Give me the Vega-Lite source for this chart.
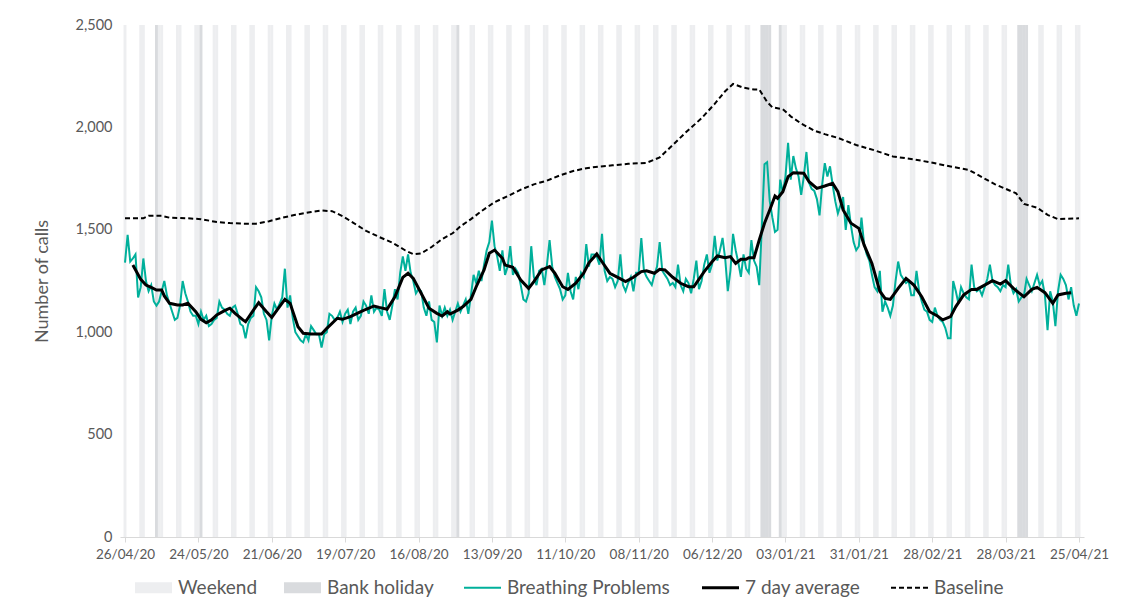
{
  "$schema": "https://vega.github.io/schema/vega-lite/v6.json",
  "width": 964,
  "height": 512,
  "autosize": {"type": "none"},
  "padding": {"left": 120, "top": 25, "right": 51, "bottom": 73},
  "background": "white",
  "config": {
    "view": {"stroke": null},
    "font": "Lato",
    "axis": {"grid": false, "labelFont": "Lato", "titleFont": "Lato", "labelColor": "#595959", "titleColor": "#595959"},
    "legend": {"labelFont": "Lato"}
  },
  "datasets": {
    "days": [
      {"d":"2020-04-26","t":"Weekend"},{"d":"2020-05-02","t":"Weekend"},{"d":"2020-05-03","t":"Weekend"},{"d":"2020-05-09","t":"Weekend"},{"d":"2020-05-10","t":"Weekend"},{"d":"2020-05-16","t":"Weekend"},{"d":"2020-05-17","t":"Weekend"},{"d":"2020-05-23","t":"Weekend"},{"d":"2020-05-24","t":"Weekend"},{"d":"2020-05-30","t":"Weekend"},{"d":"2020-05-31","t":"Weekend"},
      {"d":"2020-06-06","t":"Weekend"},{"d":"2020-06-07","t":"Weekend"},{"d":"2020-06-13","t":"Weekend"},{"d":"2020-06-14","t":"Weekend"},{"d":"2020-06-20","t":"Weekend"},{"d":"2020-06-21","t":"Weekend"},{"d":"2020-06-27","t":"Weekend"},{"d":"2020-06-28","t":"Weekend"},
      {"d":"2020-07-04","t":"Weekend"},{"d":"2020-07-05","t":"Weekend"},{"d":"2020-07-11","t":"Weekend"},{"d":"2020-07-12","t":"Weekend"},{"d":"2020-07-18","t":"Weekend"},{"d":"2020-07-19","t":"Weekend"},{"d":"2020-07-25","t":"Weekend"},{"d":"2020-07-26","t":"Weekend"},
      {"d":"2020-08-01","t":"Weekend"},{"d":"2020-08-02","t":"Weekend"},{"d":"2020-08-08","t":"Weekend"},{"d":"2020-08-09","t":"Weekend"},{"d":"2020-08-15","t":"Weekend"},{"d":"2020-08-16","t":"Weekend"},{"d":"2020-08-22","t":"Weekend"},{"d":"2020-08-23","t":"Weekend"},{"d":"2020-08-29","t":"Weekend"},{"d":"2020-08-30","t":"Weekend"},
      {"d":"2020-09-05","t":"Weekend"},{"d":"2020-09-06","t":"Weekend"},{"d":"2020-09-12","t":"Weekend"},{"d":"2020-09-13","t":"Weekend"},{"d":"2020-09-19","t":"Weekend"},{"d":"2020-09-20","t":"Weekend"},{"d":"2020-09-26","t":"Weekend"},{"d":"2020-09-27","t":"Weekend"},
      {"d":"2020-10-03","t":"Weekend"},{"d":"2020-10-04","t":"Weekend"},{"d":"2020-10-10","t":"Weekend"},{"d":"2020-10-11","t":"Weekend"},{"d":"2020-10-17","t":"Weekend"},{"d":"2020-10-18","t":"Weekend"},{"d":"2020-10-24","t":"Weekend"},{"d":"2020-10-25","t":"Weekend"},{"d":"2020-10-31","t":"Weekend"},
      {"d":"2020-11-01","t":"Weekend"},{"d":"2020-11-07","t":"Weekend"},{"d":"2020-11-08","t":"Weekend"},{"d":"2020-11-14","t":"Weekend"},{"d":"2020-11-15","t":"Weekend"},{"d":"2020-11-21","t":"Weekend"},{"d":"2020-11-22","t":"Weekend"},{"d":"2020-11-28","t":"Weekend"},{"d":"2020-11-29","t":"Weekend"},
      {"d":"2020-12-05","t":"Weekend"},{"d":"2020-12-06","t":"Weekend"},{"d":"2020-12-12","t":"Weekend"},{"d":"2020-12-13","t":"Weekend"},{"d":"2020-12-19","t":"Weekend"},{"d":"2020-12-20","t":"Weekend"},{"d":"2020-12-26","t":"Weekend"},{"d":"2020-12-27","t":"Weekend"},
      {"d":"2021-01-02","t":"Weekend"},{"d":"2021-01-03","t":"Weekend"},{"d":"2021-01-09","t":"Weekend"},{"d":"2021-01-10","t":"Weekend"},{"d":"2021-01-16","t":"Weekend"},{"d":"2021-01-17","t":"Weekend"},{"d":"2021-01-23","t":"Weekend"},{"d":"2021-01-24","t":"Weekend"},{"d":"2021-01-30","t":"Weekend"},{"d":"2021-01-31","t":"Weekend"},
      {"d":"2021-02-06","t":"Weekend"},{"d":"2021-02-07","t":"Weekend"},{"d":"2021-02-13","t":"Weekend"},{"d":"2021-02-14","t":"Weekend"},{"d":"2021-02-20","t":"Weekend"},{"d":"2021-02-21","t":"Weekend"},{"d":"2021-02-27","t":"Weekend"},{"d":"2021-02-28","t":"Weekend"},
      {"d":"2021-03-06","t":"Weekend"},{"d":"2021-03-07","t":"Weekend"},{"d":"2021-03-13","t":"Weekend"},{"d":"2021-03-14","t":"Weekend"},{"d":"2021-03-20","t":"Weekend"},{"d":"2021-03-21","t":"Weekend"},{"d":"2021-03-27","t":"Weekend"},{"d":"2021-03-28","t":"Weekend"},
      {"d":"2021-04-03","t":"Weekend"},{"d":"2021-04-04","t":"Weekend"},{"d":"2021-04-10","t":"Weekend"},{"d":"2021-04-11","t":"Weekend"},{"d":"2021-04-17","t":"Weekend"},{"d":"2021-04-18","t":"Weekend"},{"d":"2021-04-24","t":"Weekend"},{"d":"2021-04-25","t":"Weekend"},
      {"d":"2020-05-08","t":"Bank holiday"},{"d":"2020-05-25","t":"Bank holiday"},{"d":"2020-08-31","t":"Bank holiday"},{"d":"2020-12-25","t":"Bank holiday"},{"d":"2020-12-26","t":"Bank holiday"},{"d":"2020-12-27","t":"Bank holiday"},{"d":"2020-12-28","t":"Bank holiday"},{"d":"2021-01-01","t":"Bank holiday"},{"d":"2021-04-02","t":"Bank holiday"},{"d":"2021-04-03","t":"Bank holiday"},{"d":"2021-04-04","t":"Bank holiday"},{"d":"2021-04-05","t":"Bank holiday"}
    ],
    "bp": [
      {"d":"2020-04-26","v":1340},{"d":"2020-04-27","v":1475},{"d":"2020-04-28","v":1345},{"d":"2020-04-29","v":1360},{"d":"2020-04-30","v":1380},
      {"d":"2020-05-01","v":1170},{"d":"2020-05-02","v":1220},{"d":"2020-05-03","v":1360},{"d":"2020-05-04","v":1250},{"d":"2020-05-05","v":1200},{"d":"2020-05-06","v":1230},{"d":"2020-05-07","v":1150},{"d":"2020-05-08","v":1130},{"d":"2020-05-09","v":1150},{"d":"2020-05-10","v":1200},{"d":"2020-05-11","v":1250},{"d":"2020-05-12","v":1180},{"d":"2020-05-13","v":1140},{"d":"2020-05-14","v":1100},{"d":"2020-05-15","v":1060},{"d":"2020-05-16","v":1070},{"d":"2020-05-17","v":1130},{"d":"2020-05-18","v":1250},{"d":"2020-05-19","v":1190},{"d":"2020-05-20","v":1150},{"d":"2020-05-21","v":1100},{"d":"2020-05-22","v":1080},{"d":"2020-05-23","v":1080},{"d":"2020-05-24","v":1040},{"d":"2020-05-25","v":1100},{"d":"2020-05-26","v":1060},{"d":"2020-05-27","v":1080},{"d":"2020-05-28","v":1030},{"d":"2020-05-29","v":1040},{"d":"2020-05-30","v":1060},{"d":"2020-05-31","v":1070},
      {"d":"2020-06-01","v":1150},{"d":"2020-06-02","v":1120},{"d":"2020-06-03","v":1110},{"d":"2020-06-04","v":1090},{"d":"2020-06-05","v":1080},{"d":"2020-06-06","v":1120},{"d":"2020-06-07","v":1130},{"d":"2020-06-08","v":1090},{"d":"2020-06-09","v":1040},{"d":"2020-06-10","v":1030},{"d":"2020-06-11","v":970},{"d":"2020-06-12","v":1040},{"d":"2020-06-13","v":1070},{"d":"2020-06-14","v":1080},{"d":"2020-06-15","v":1220},{"d":"2020-06-16","v":1200},{"d":"2020-06-17","v":1170},{"d":"2020-06-18","v":1090},{"d":"2020-06-19","v":1060},{"d":"2020-06-20","v":960},{"d":"2020-06-21","v":1080},{"d":"2020-06-22","v":1140},{"d":"2020-06-23","v":1110},{"d":"2020-06-24","v":1140},{"d":"2020-06-25","v":1170},{"d":"2020-06-26","v":1310},{"d":"2020-06-27","v":1120},{"d":"2020-06-28","v":1180},{"d":"2020-06-29","v":1070},{"d":"2020-06-30","v":1000},
      {"d":"2020-07-01","v":980},{"d":"2020-07-02","v":960},{"d":"2020-07-03","v":950},{"d":"2020-07-04","v":990},{"d":"2020-07-05","v":960},{"d":"2020-07-06","v":1030},{"d":"2020-07-07","v":1010},{"d":"2020-07-08","v":990},{"d":"2020-07-09","v":990},{"d":"2020-07-10","v":925},{"d":"2020-07-11","v":990},{"d":"2020-07-12","v":1000},{"d":"2020-07-13","v":1090},{"d":"2020-07-14","v":1080},{"d":"2020-07-15","v":1060},{"d":"2020-07-16","v":1070},{"d":"2020-07-17","v":1100},{"d":"2020-07-18","v":1050},{"d":"2020-07-19","v":1090},{"d":"2020-07-20","v":1110},{"d":"2020-07-21","v":1040},{"d":"2020-07-22","v":1100},{"d":"2020-07-23","v":1120},{"d":"2020-07-24","v":1060},{"d":"2020-07-25","v":1080},{"d":"2020-07-26","v":1150},{"d":"2020-07-27","v":1130},{"d":"2020-07-28","v":1090},{"d":"2020-07-29","v":1180},{"d":"2020-07-30","v":1100},{"d":"2020-07-31","v":1120},
      {"d":"2020-08-01","v":1110},{"d":"2020-08-02","v":1080},{"d":"2020-08-03","v":1210},{"d":"2020-08-04","v":1100},{"d":"2020-08-05","v":1060},{"d":"2020-08-06","v":1130},{"d":"2020-08-07","v":1210},{"d":"2020-08-08","v":1160},{"d":"2020-08-09","v":1290},{"d":"2020-08-10","v":1370},{"d":"2020-08-11","v":1300},{"d":"2020-08-12","v":1380},{"d":"2020-08-13","v":1290},{"d":"2020-08-14","v":1250},{"d":"2020-08-15","v":1190},{"d":"2020-08-16","v":1210},{"d":"2020-08-17","v":1200},{"d":"2020-08-18","v":1120},{"d":"2020-08-19","v":1080},{"d":"2020-08-20","v":1150},{"d":"2020-08-21","v":1060},{"d":"2020-08-22","v":1050},{"d":"2020-08-23","v":950},{"d":"2020-08-24","v":1130},{"d":"2020-08-25","v":1080},{"d":"2020-08-26","v":1120},{"d":"2020-08-27","v":1080},{"d":"2020-08-28","v":1110},{"d":"2020-08-29","v":1060},{"d":"2020-08-30","v":1100},{"d":"2020-08-31","v":1140},
      {"d":"2020-09-01","v":1100},{"d":"2020-09-02","v":1130},{"d":"2020-09-03","v":1160},{"d":"2020-09-04","v":1090},{"d":"2020-09-05","v":1180},{"d":"2020-09-06","v":1280},{"d":"2020-09-07","v":1240},{"d":"2020-09-08","v":1300},{"d":"2020-09-09","v":1250},{"d":"2020-09-10","v":1330},{"d":"2020-09-11","v":1400},{"d":"2020-09-12","v":1440},{"d":"2020-09-13","v":1545},{"d":"2020-09-14","v":1420},{"d":"2020-09-15","v":1370},{"d":"2020-09-16","v":1300},{"d":"2020-09-17","v":1400},{"d":"2020-09-18","v":1280},{"d":"2020-09-19","v":1320},{"d":"2020-09-20","v":1420},{"d":"2020-09-21","v":1280},{"d":"2020-09-22","v":1310},{"d":"2020-09-23","v":1290},{"d":"2020-09-24","v":1230},{"d":"2020-09-25","v":1160},{"d":"2020-09-26","v":1150},{"d":"2020-09-27","v":1190},{"d":"2020-09-28","v":1420},{"d":"2020-09-29","v":1270},{"d":"2020-09-30","v":1230},
      {"d":"2020-10-01","v":1300},{"d":"2020-10-02","v":1310},{"d":"2020-10-03","v":1230},{"d":"2020-10-04","v":1330},{"d":"2020-10-05","v":1450},{"d":"2020-10-06","v":1320},{"d":"2020-10-07","v":1270},{"d":"2020-10-08","v":1240},{"d":"2020-10-09","v":1210},{"d":"2020-10-10","v":1160},{"d":"2020-10-11","v":1180},{"d":"2020-10-12","v":1290},{"d":"2020-10-13","v":1200},{"d":"2020-10-14","v":1160},{"d":"2020-10-15","v":1270},{"d":"2020-10-16","v":1210},{"d":"2020-10-17","v":1290},{"d":"2020-10-18","v":1270},{"d":"2020-10-19","v":1430},{"d":"2020-10-20","v":1320},{"d":"2020-10-21","v":1380},{"d":"2020-10-22","v":1380},{"d":"2020-10-23","v":1370},{"d":"2020-10-24","v":1330},{"d":"2020-10-25","v":1480},{"d":"2020-10-26","v":1300},{"d":"2020-10-27","v":1250},{"d":"2020-10-28","v":1270},{"d":"2020-10-29","v":1260},{"d":"2020-10-30","v":1220},{"d":"2020-10-31","v":1250},
      {"d":"2020-11-01","v":1380},{"d":"2020-11-02","v":1230},{"d":"2020-11-03","v":1200},{"d":"2020-11-04","v":1240},{"d":"2020-11-05","v":1270},{"d":"2020-11-06","v":1200},{"d":"2020-11-07","v":1290},{"d":"2020-11-08","v":1290},{"d":"2020-11-09","v":1460},{"d":"2020-11-10","v":1300},{"d":"2020-11-11","v":1270},{"d":"2020-11-12","v":1250},{"d":"2020-11-13","v":1230},{"d":"2020-11-14","v":1280},{"d":"2020-11-15","v":1320},{"d":"2020-11-16","v":1440},{"d":"2020-11-17","v":1300},{"d":"2020-11-18","v":1280},{"d":"2020-11-19","v":1260},{"d":"2020-11-20","v":1230},{"d":"2020-11-21","v":1240},{"d":"2020-11-22","v":1220},{"d":"2020-11-23","v":1330},{"d":"2020-11-24","v":1230},{"d":"2020-11-25","v":1200},{"d":"2020-11-26","v":1260},{"d":"2020-11-27","v":1240},{"d":"2020-11-28","v":1190},{"d":"2020-11-29","v":1260},{"d":"2020-11-30","v":1350},
      {"d":"2020-12-01","v":1210},{"d":"2020-12-02","v":1250},{"d":"2020-12-03","v":1330},{"d":"2020-12-04","v":1380},{"d":"2020-12-05","v":1290},{"d":"2020-12-06","v":1330},{"d":"2020-12-07","v":1470},{"d":"2020-12-08","v":1350},{"d":"2020-12-09","v":1400},{"d":"2020-12-10","v":1460},{"d":"2020-12-11","v":1360},{"d":"2020-12-12","v":1200},{"d":"2020-12-13","v":1300},{"d":"2020-12-14","v":1480},{"d":"2020-12-15","v":1400},{"d":"2020-12-16","v":1340},{"d":"2020-12-17","v":1270},{"d":"2020-12-18","v":1380},{"d":"2020-12-19","v":1310},{"d":"2020-12-20","v":1290},{"d":"2020-12-21","v":1450},{"d":"2020-12-22","v":1350},{"d":"2020-12-23","v":1320},{"d":"2020-12-24","v":1230},{"d":"2020-12-25","v":1520},{"d":"2020-12-26","v":1820},{"d":"2020-12-27","v":1830},{"d":"2020-12-28","v":1640},{"d":"2020-12-29","v":1560},{"d":"2020-12-30","v":1490},{"d":"2020-12-31","v":1500},
      {"d":"2021-01-01","v":1745},{"d":"2021-01-02","v":1680},{"d":"2021-01-03","v":1760},{"d":"2021-01-04","v":1925},{"d":"2021-01-05","v":1745},{"d":"2021-01-06","v":1860},{"d":"2021-01-07","v":1800},{"d":"2021-01-08","v":1760},{"d":"2021-01-09","v":1670},{"d":"2021-01-10","v":1760},{"d":"2021-01-11","v":1880},{"d":"2021-01-12","v":1730},{"d":"2021-01-13","v":1700},{"d":"2021-01-14","v":1690},{"d":"2021-01-15","v":1650},{"d":"2021-01-16","v":1570},{"d":"2021-01-17","v":1720},{"d":"2021-01-18","v":1825},{"d":"2021-01-19","v":1760},{"d":"2021-01-20","v":1810},{"d":"2021-01-21","v":1720},{"d":"2021-01-22","v":1640},{"d":"2021-01-23","v":1580},{"d":"2021-01-24","v":1620},{"d":"2021-01-25","v":1660},{"d":"2021-01-26","v":1500},{"d":"2021-01-27","v":1620},{"d":"2021-01-28","v":1520},{"d":"2021-01-29","v":1440},{"d":"2021-01-30","v":1400},{"d":"2021-01-31","v":1420},
      {"d":"2021-02-01","v":1560},{"d":"2021-02-02","v":1430},{"d":"2021-02-03","v":1380},{"d":"2021-02-04","v":1350},{"d":"2021-02-05","v":1280},{"d":"2021-02-06","v":1220},{"d":"2021-02-07","v":1200},{"d":"2021-02-08","v":1300},{"d":"2021-02-09","v":1100},{"d":"2021-02-10","v":1150},{"d":"2021-02-11","v":1120},{"d":"2021-02-12","v":1080},{"d":"2021-02-13","v":1130},{"d":"2021-02-14","v":1250},{"d":"2021-02-15","v":1345},{"d":"2021-02-16","v":1280},{"d":"2021-02-17","v":1260},{"d":"2021-02-18","v":1240},{"d":"2021-02-19","v":1250},{"d":"2021-02-20","v":1180},{"d":"2021-02-21","v":1180},{"d":"2021-02-22","v":1300},{"d":"2021-02-23","v":1200},{"d":"2021-02-24","v":1150},{"d":"2021-02-25","v":1110},{"d":"2021-02-26","v":1100},{"d":"2021-02-27","v":1060},{"d":"2021-02-28","v":1050},
      {"d":"2021-03-01","v":1120},{"d":"2021-03-02","v":1080},{"d":"2021-03-03","v":1060},{"d":"2021-03-04","v":1050},{"d":"2021-03-05","v":1020},{"d":"2021-03-06","v":970},{"d":"2021-03-07","v":970},{"d":"2021-03-08","v":1250},{"d":"2021-03-09","v":1200},{"d":"2021-03-10","v":1140},{"d":"2021-03-11","v":1220},{"d":"2021-03-12","v":1190},{"d":"2021-03-13","v":1170},{"d":"2021-03-14","v":1160},{"d":"2021-03-15","v":1330},{"d":"2021-03-16","v":1220},{"d":"2021-03-17","v":1200},{"d":"2021-03-18","v":1210},{"d":"2021-03-19","v":1180},{"d":"2021-03-20","v":1220},{"d":"2021-03-21","v":1260},{"d":"2021-03-22","v":1330},{"d":"2021-03-23","v":1250},{"d":"2021-03-24","v":1230},{"d":"2021-03-25","v":1220},{"d":"2021-03-26","v":1200},{"d":"2021-03-27","v":1230},{"d":"2021-03-28","v":1220},{"d":"2021-03-29","v":1330},{"d":"2021-03-30","v":1230},{"d":"2021-03-31","v":1190},
      {"d":"2021-04-01","v":1210},{"d":"2021-04-02","v":1150},{"d":"2021-04-03","v":1170},{"d":"2021-04-04","v":1180},{"d":"2021-04-05","v":1260},{"d":"2021-04-06","v":1230},{"d":"2021-04-07","v":1200},{"d":"2021-04-08","v":1240},{"d":"2021-04-09","v":1280},{"d":"2021-04-10","v":1230},{"d":"2021-04-11","v":1250},{"d":"2021-04-12","v":1180},{"d":"2021-04-13","v":1010},{"d":"2021-04-14","v":1200},{"d":"2021-04-15","v":1150},{"d":"2021-04-16","v":1030},{"d":"2021-04-17","v":1200},{"d":"2021-04-18","v":1280},{"d":"2021-04-19","v":1260},{"d":"2021-04-20","v":1230},{"d":"2021-04-21","v":1160},{"d":"2021-04-22","v":1220},{"d":"2021-04-23","v":1130},{"d":"2021-04-24","v":1080},{"d":"2021-04-25","v":1140}
    ],
    "avg": [
      {"d":"2020-04-29","v":1328},{"d":"2020-05-02","v":1258},{"d":"2020-05-04","v":1230},{"d":"2020-05-06","v":1219},{"d":"2020-05-08","v":1206},{"d":"2020-05-10","v":1206},{"d":"2020-05-11","v":1177},{"d":"2020-05-13","v":1141},{"d":"2020-05-16","v":1133},{"d":"2020-05-18","v":1133},{"d":"2020-05-20","v":1141},{"d":"2020-05-23","v":1100},{"d":"2020-05-25","v":1063},{"d":"2020-05-27","v":1046},{"d":"2020-05-29","v":1060},{"d":"2020-05-31","v":1084},
      {"d":"2020-06-03","v":1105},{"d":"2020-06-05","v":1117},{"d":"2020-06-07","v":1092},{"d":"2020-06-10","v":1060},{"d":"2020-06-11","v":1051},{"d":"2020-06-14","v":1108},{"d":"2020-06-16","v":1144},{"d":"2020-06-19","v":1100},{"d":"2020-06-21","v":1072},{"d":"2020-06-23","v":1108},{"d":"2020-06-26","v":1160},{"d":"2020-06-28","v":1141},
      {"d":"2020-07-01","v":1027},{"d":"2020-07-03","v":995},{"d":"2020-07-06","v":991},{"d":"2020-07-10","v":991},{"d":"2020-07-12","v":1019},{"d":"2020-07-16","v":1068},{"d":"2020-07-18","v":1063},{"d":"2020-07-21","v":1076},{"d":"2020-07-25","v":1100},{"d":"2020-07-27","v":1112},{"d":"2020-07-30","v":1128},
      {"d":"2020-08-01","v":1121},{"d":"2020-08-04","v":1112},{"d":"2020-08-07","v":1173},{"d":"2020-08-10","v":1268},{"d":"2020-08-12","v":1288},{"d":"2020-08-14","v":1263},{"d":"2020-08-17","v":1190},{"d":"2020-08-20","v":1117},{"d":"2020-08-23","v":1092},{"d":"2020-08-25","v":1079},{"d":"2020-08-27","v":1100},{"d":"2020-08-28","v":1089},{"d":"2020-08-31","v":1108},
      {"d":"2020-09-02","v":1125},{"d":"2020-09-05","v":1160},{"d":"2020-09-07","v":1222},{"d":"2020-09-10","v":1304},{"d":"2020-09-12","v":1385},{"d":"2020-09-14","v":1401},{"d":"2020-09-17","v":1361},{"d":"2020-09-18","v":1328},{"d":"2020-09-21","v":1317},{"d":"2020-09-24","v":1255},{"d":"2020-09-27","v":1214},{"d":"2020-09-29","v":1247},
      {"d":"2020-10-02","v":1304},{"d":"2020-10-05","v":1320},{"d":"2020-10-07","v":1288},{"d":"2020-10-10","v":1222},{"d":"2020-10-12","v":1209},{"d":"2020-10-15","v":1239},{"d":"2020-10-18","v":1288},{"d":"2020-10-20","v":1339},{"d":"2020-10-23","v":1382},{"d":"2020-10-25","v":1344},{"d":"2020-10-28","v":1288},{"d":"2020-10-31","v":1268},
      {"d":"2020-11-03","v":1247},{"d":"2020-11-06","v":1268},{"d":"2020-11-09","v":1296},{"d":"2020-11-11","v":1300},{"d":"2020-11-14","v":1288},{"d":"2020-11-16","v":1307},{"d":"2020-11-18","v":1304},{"d":"2020-11-21","v":1268},{"d":"2020-11-24","v":1239},{"d":"2020-11-27","v":1222},{"d":"2020-11-29","v":1222},
      {"d":"2020-12-03","v":1296},{"d":"2020-12-06","v":1344},{"d":"2020-12-08","v":1372},{"d":"2020-12-11","v":1364},{"d":"2020-12-13","v":1369},{"d":"2020-12-15","v":1336},{"d":"2020-12-17","v":1356},{"d":"2020-12-19","v":1356},{"d":"2020-12-20","v":1364},{"d":"2020-12-22","v":1364},{"d":"2020-12-24","v":1450},{"d":"2020-12-26","v":1532},{"d":"2020-12-28","v":1597},{"d":"2020-12-30","v":1665},{"d":"2020-12-31","v":1654},
      {"d":"2021-01-02","v":1686},{"d":"2021-01-04","v":1759},{"d":"2021-01-06","v":1779},{"d":"2021-01-10","v":1776},{"d":"2021-01-12","v":1735},{"d":"2021-01-15","v":1702},{"d":"2021-01-18","v":1714},{"d":"2021-01-21","v":1727},{"d":"2021-01-23","v":1686},{"d":"2021-01-25","v":1597},{"d":"2021-01-28","v":1532},{"d":"2021-01-31","v":1507},
      {"d":"2021-02-02","v":1426},{"d":"2021-02-05","v":1336},{"d":"2021-02-08","v":1200},{"d":"2021-02-10","v":1165},{"d":"2021-02-12","v":1160},{"d":"2021-02-15","v":1214},{"d":"2021-02-18","v":1263},{"d":"2021-02-21","v":1230},{"d":"2021-02-24","v":1173},{"d":"2021-02-27","v":1100},
      {"d":"2021-03-02","v":1079},{"d":"2021-03-04","v":1060},{"d":"2021-03-07","v":1076},{"d":"2021-03-09","v":1125},{"d":"2021-03-12","v":1182},{"d":"2021-03-15","v":1209},{"d":"2021-03-17","v":1209},{"d":"2021-03-20","v":1230},{"d":"2021-03-23","v":1252},{"d":"2021-03-26","v":1235},{"d":"2021-03-28","v":1252},{"d":"2021-03-31","v":1214},
      {"d":"2021-04-02","v":1193},{"d":"2021-04-04","v":1173},{"d":"2021-04-07","v":1209},{"d":"2021-04-09","v":1219},{"d":"2021-04-12","v":1193},{"d":"2021-04-15","v":1141},{"d":"2021-04-17","v":1182},{"d":"2021-04-20","v":1190},{"d":"2021-04-22","v":1193}
    ],
    "base": [
      {"d":"2020-04-26","v":1556},{"d":"2020-05-03","v":1556},{"d":"2020-05-05","v":1568},{"d":"2020-05-10","v":1568},{"d":"2020-05-13","v":1559},{"d":"2020-05-20","v":1556},{"d":"2020-05-25","v":1552},{"d":"2020-05-31","v":1538},{"d":"2020-06-05","v":1533},{"d":"2020-06-10","v":1530},{"d":"2020-06-15","v":1530},{"d":"2020-06-20","v":1542},{"d":"2020-06-25","v":1559},{"d":"2020-06-30","v":1573},
      {"d":"2020-07-06","v":1587},{"d":"2020-07-10","v":1594},{"d":"2020-07-14","v":1591},{"d":"2020-07-18","v":1567},{"d":"2020-07-22","v":1535},{"d":"2020-07-27","v":1495},{"d":"2020-08-01","v":1465},{"d":"2020-08-06","v":1437},{"d":"2020-08-11","v":1399},{"d":"2020-08-14","v":1381},{"d":"2020-08-17","v":1385},{"d":"2020-08-21","v":1416},{"d":"2020-08-25","v":1455},{"d":"2020-08-29","v":1483},
      {"d":"2020-09-01","v":1517},{"d":"2020-09-05","v":1552},{"d":"2020-09-09","v":1591},{"d":"2020-09-14","v":1635},{"d":"2020-09-19","v":1664},{"d":"2020-09-24","v":1696},{"d":"2020-09-29","v":1722},{"d":"2020-10-04","v":1740},{"d":"2020-10-09","v":1766},{"d":"2020-10-14","v":1787},{"d":"2020-10-19","v":1801},{"d":"2020-10-24","v":1809},{"d":"2020-10-29","v":1815},
      {"d":"2020-11-04","v":1822},{"d":"2020-11-11","v":1827},{"d":"2020-11-16","v":1853},{"d":"2020-11-21","v":1914},{"d":"2020-11-26","v":1976},{"d":"2020-12-02","v":2045},{"d":"2020-12-07","v":2115},{"d":"2020-12-11","v":2177},{"d":"2020-12-14","v":2212},{"d":"2020-12-18","v":2194},{"d":"2020-12-22","v":2185},{"d":"2020-12-24","v":2185},{"d":"2020-12-27","v":2124},{"d":"2020-12-29","v":2098},
      {"d":"2021-01-02","v":2089},{"d":"2021-01-05","v":2054},{"d":"2021-01-09","v":2019},{"d":"2021-01-14","v":1984},{"d":"2021-01-18","v":1967},{"d":"2021-01-23","v":1949},{"d":"2021-01-30","v":1914},{"d":"2021-02-06","v":1888},{"d":"2021-02-13","v":1858},{"d":"2021-02-21","v":1844},{"d":"2021-02-27","v":1830},
      {"d":"2021-03-07","v":1809},{"d":"2021-03-14","v":1792},{"d":"2021-03-19","v":1757},{"d":"2021-03-24","v":1722},{"d":"2021-04-01","v":1678},{"d":"2021-04-04","v":1626},{"d":"2021-04-09","v":1608},{"d":"2021-04-13","v":1573},{"d":"2021-04-17","v":1552},{"d":"2021-04-25","v":1556}
    ]
  },
  "encoding": {
    "x": {
      "field": "d", "type": "temporal", "title": null,
      "scale": {"type": "utc", "nice": false, "domain": [{"year": 2020, "month": 4, "date": 26, "utc": true}, {"year": 2021, "month": 4, "date": 25, "utc": true}]},
      "axis": {
        "format": "%d/%m/%y", "labelFontSize": 13.5, "labelPadding": 5, "tickSize": 5, "tickColor": "#D9D9D9", "domainColor": "#D9D9D9", "labelFlush": false, "labelOverlap": false,
        "values": [
          {"year": 2020, "month": 4, "date": 26, "utc": true}, {"year": 2020, "month": 5, "date": 24, "utc": true}, {"year": 2020, "month": 6, "date": 21, "utc": true},
          {"year": 2020, "month": 7, "date": 19, "utc": true}, {"year": 2020, "month": 8, "date": 16, "utc": true}, {"year": 2020, "month": 9, "date": 13, "utc": true},
          {"year": 2020, "month": 10, "date": 11, "utc": true}, {"year": 2020, "month": 11, "date": 8, "utc": true}, {"year": 2020, "month": 12, "date": 6, "utc": true},
          {"year": 2021, "month": 1, "date": 3, "utc": true}, {"year": 2021, "month": 1, "date": 31, "utc": true}, {"year": 2021, "month": 2, "date": 28, "utc": true},
          {"year": 2021, "month": 3, "date": 28, "utc": true}, {"year": 2021, "month": 4, "date": 25, "utc": true}
        ]
      }
    }
  },
  "layer": [
    {
      "data": {"name": "days"},
      "mark": {"type": "bar", "width": 2.9, "clip": true},
      "encoding": {
        "y": {"datum": 2500, "type": "quantitative", "title": "Number of calls", "scale": {"domain": [0, 2500], "nice": false, "zero": true},
              "axis": {"values": [0, 500, 1000, 1500, 2000, 2500], "format": ",.0f", "domain": false, "ticks": false, "labelFontSize": 14.5, "labelPadding": 8, "titleFontSize": 18, "titleFontWeight": "normal", "titlePadding": 24}},
        "y2": {"datum": 0},
        "color": {
          "field": "t", "type": "nominal",
          "scale": {"domain": ["Weekend", "Bank holiday", "Breathing Problems", "7 day average", "Baseline"], "range": ["#EDEEF0", "#D9DBDE", "#00B09B", "#000000", "#000000"]},
          "legend": {
            "title": null, "orient": "none", "legendX": 15, "legendY": 553, "direction": "horizontal",
            "symbolSize": 1369, "labelFontSize": 19, "labelColor": "#595959", "labelOffset": 6, "columnPadding": 26, "labelLimit": 400,
            "encode": {
              "symbols": {"update": {
                "x": {"value": 18.5},
                "shape": {"signal": "datum.value === 'Weekend' || datum.value === 'Bank holiday' ? 'M-1,-0.3H1V0.3H-1Z' : 'M-1,0H1'"},
                "size": {"value": 1369},
                "fill": {"signal": "datum.value === 'Weekend' ? '#EDEEF0' : datum.value === 'Bank holiday' ? '#D9DBDE' : 'transparent'"},
                "stroke": {"signal": "datum.value === 'Breathing Problems' ? '#00B09B' : (datum.value === '7 day average' || datum.value === 'Baseline') ? '#000000' : 'transparent'"},
                "strokeWidth": {"signal": "datum.value === 'Breathing Problems' ? 2 : datum.value === '7 day average' ? 3 : datum.value === 'Baseline' ? 2 : 0"},
                "strokeDash": {"signal": "datum.value === 'Baseline' ? [5, 3] : [1, 0]"},
                "opacity": {"value": 1}
              }},
              "labels": {"update": {"x": {"value": 43}}}
            }
          }
        }
      }
    },
    {
      "data": {"name": "base"},
      "mark": {"type": "line", "strokeWidth": 2, "strokeDash": [5, 3]},
      "encoding": {
        "y": {"field": "v", "type": "quantitative", "title": "Number of calls", "scale": {"domain": [0, 2500], "nice": false}},
        "color": {"datum": "Baseline", "type": "nominal"}
      }
    },
    {
      "data": {"name": "bp"},
      "mark": {"type": "line", "strokeWidth": 2},
      "encoding": {
        "y": {"field": "v", "type": "quantitative", "title": "Number of calls", "scale": {"domain": [0, 2500], "nice": false}},
        "color": {"datum": "Breathing Problems", "type": "nominal"}
      }
    },
    {
      "data": {"name": "avg"},
      "mark": {"type": "line", "strokeWidth": 3},
      "encoding": {
        "y": {"field": "v", "type": "quantitative", "title": "Number of calls", "scale": {"domain": [0, 2500], "nice": false}},
        "color": {"datum": "7 day average", "type": "nominal"}
      }
    }
  ]
}
